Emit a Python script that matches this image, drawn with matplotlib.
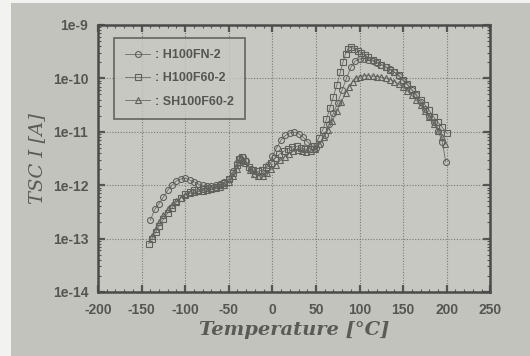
#!/usr/bin/env python3
"""
TSC current vs temperature - three samples, log scale
"""

import numpy as np
import matplotlib.pyplot as plt
from matplotlib.patches import Rectangle
from matplotlib.ticker import LogLocator, FixedLocator, MultipleLocator

# H100FN-2 (circles)
temp_fn = [-140, -135, -130, -125, -120, -115, -110, -105, -100, -95, -90, -85, -80, -75,
           -70, -65, -60, -55, -50, -45, -40, -37, -34, -30, -25, -20, -15, -10, -5, 0,
           5, 10, 15, 20, 25, 30, 35, 40, 45, 50, 55, 60, 65, 70, 75, 80, 85, 90, 95,
           100, 105, 110, 115, 120, 125, 130, 135, 140, 145, 150, 155, 160, 165, 170,
           175, 180, 185, 190, 195, 199]
tsc_fn = [2.2e-13, 3.5e-13, 4.5e-13, 6e-13, 8e-13, 1e-12, 1.2e-12, 1.3e-12, 1.35e-12, 1.25e-12,
          1.15e-12, 1.05e-12, 1e-12, 9.5e-13, 9.5e-13, 1e-12, 1.05e-12, 1.15e-12, 1.3e-12,
          1.8e-12, 2.6e-12, 3.2e-12, 3.3e-12, 2.8e-12, 2e-12, 1.6e-12, 1.5e-12, 1.7e-12,
          2.4e-12, 3.5e-12, 5e-12, 7e-12, 8.5e-12, 9.5e-12, 9.8e-12, 9.2e-12, 8e-12, 6.5e-12,
          5.5e-12, 5e-12, 6e-12, 8.5e-12, 1.4e-11, 2.2e-11, 3.5e-11, 6e-11, 1e-10, 1.6e-10,
          2.1e-10, 2.3e-10, 2.35e-10, 2.25e-10, 2.1e-10, 1.95e-10, 1.8e-10, 1.65e-10,
          1.5e-10, 1.3e-10, 1.1e-10, 9e-11, 7.5e-11, 6e-11, 4.8e-11, 3.6e-11, 2.7e-11,
          2e-11, 1.5e-11, 1.05e-11, 6.5e-12, 2.7e-12]

# H100F60-2 (squares)
temp_f60 = [-142, -138, -134, -130, -125, -120, -115, -110, -105, -100, -95, -90, -85, -80,
            -75, -70, -65, -60, -55, -50, -45, -41, -38, -35, -31, -27, -22, -17, -12, -7,
            -2, 3, 8, 13, 18, 23, 28, 33, 38, 43, 48, 53, 58, 62, 66, 70, 74, 78, 81, 84,
            87, 90, 94, 98, 102, 106, 110, 115, 120, 125, 130, 135, 140, 145, 150, 155,
            160, 165, 170, 175, 180, 185, 190, 195, 200]
tsc_f60 = [8e-14, 1e-13, 1.3e-13, 1.7e-13, 2.3e-13, 3e-13, 3.8e-13, 4.8e-13, 5.8e-13, 6.8e-13,
           7.5e-13, 8e-13, 8.2e-13, 8.5e-13, 8.7e-13, 9e-13, 9.3e-13, 1e-12, 1.1e-12, 1.3e-12,
           1.7e-12, 2.4e-12, 3.1e-12, 3.3e-12, 2.8e-12, 2.2e-12, 1.9e-12, 1.8e-12, 1.9e-12,
           2.2e-12, 2.6e-12, 3.2e-12, 3.8e-12, 4.3e-12, 4.8e-12, 5.2e-12, 5.3e-12, 5e-12,
           4.7e-12, 4.8e-12, 5.5e-12, 7.5e-12, 1.1e-11, 1.7e-11, 2.8e-11, 4.5e-11, 7.5e-11,
           1.3e-10, 2e-10, 2.9e-10, 3.6e-10, 3.8e-10, 3.6e-10, 3.3e-10, 3e-10, 2.7e-10,
           2.5e-10, 2.2e-10, 2e-10, 1.8e-10, 1.6e-10, 1.45e-10, 1.3e-10, 1.15e-10, 9.5e-11,
           7.8e-11, 6.2e-11, 5e-11, 4e-11, 3.2e-11, 2.5e-11, 1.9e-11, 1.5e-11, 1.2e-11, 9.5e-12]

# SH100F60-2 (triangles)
temp_sh = [-138, -134, -130, -125, -120, -115, -110, -105, -100, -95, -90, -85, -80, -75,
           -70, -65, -60, -55, -50, -45, -41, -38, -35, -31, -26, -21, -16, -11, -6, -1,
           4, 9, 14, 19, 24, 29, 34, 39, 44, 49, 54, 59, 64, 69, 74, 79, 84, 88, 92, 96,
           100, 105, 110, 115, 120, 125, 130, 135, 140, 145, 150, 155, 160, 165, 170,
           175, 180, 185, 190, 195, 198]
tsc_sh = [1.1e-13, 1.5e-13, 2e-13, 2.7e-13, 3.5e-13, 4.3e-13, 5e-13, 5.8e-13, 6.5e-13,
          7e-13, 7.3e-13, 7.6e-13, 7.8e-13, 8e-13, 8.3e-13, 8.8e-13, 9.3e-13, 1e-12, 1.15e-12,
          1.5e-12, 2e-12, 2.7e-12, 3e-12, 2.6e-12, 1.9e-12, 1.6e-12, 1.5e-12, 1.5e-12,
          1.7e-12, 2e-12, 2.4e-12, 2.9e-12, 3.4e-12, 3.9e-12, 4.3e-12, 4.5e-12, 4.4e-12,
          4.2e-12, 4.3e-12, 4.8e-12, 6e-12, 8e-12, 1.1e-11, 1.6e-11, 2.4e-11, 3.6e-11,
          5.3e-11, 7e-11, 8.7e-11, 1e-10, 1.08e-10, 1.12e-10, 1.12e-10, 1.1e-10, 1.08e-10,
          1.05e-10, 1e-10, 9.5e-11, 8.7e-11, 7.8e-11, 6.8e-11, 5.8e-11, 4.8e-11, 3.9e-11,
          3.1e-11, 2.4e-11, 1.85e-11, 1.4e-11, 1.05e-11, 7.8e-12, 6e-12]

labels = [': H100FN-2', ': H100F60-2', ': SH100F60-2']
x_ticks = [-200, -150, -100, -50, 0, 50, 100, 150, 200, 250]
y_ticks = [1e-14, 1e-13, 1e-12, 1e-11, 1e-10, 1e-9]
y_ticklabels = ['1e-14', '1e-13', '1e-12', '1e-11', '1e-10', '1e-9']

ink = '#555552'
paper = '#c3c3be'

fig = plt.figure(figsize=(5.3, 3.56), dpi=100, facecolor=paper)
# white page edge visible in the photo
fig.patches.append(Rectangle((0, 0), 11 / 530, 1, transform=fig.transFigure,
                             facecolor='#f2f2f0', edgecolor='none', zorder=0))
fig.patches.append(Rectangle((0, 1 - 3 / 356), 1, 3 / 356, transform=fig.transFigure,
                             facecolor='#f2f2f0', edgecolor='none', zorder=0))

ax = fig.add_axes([0.185, 0.18, 0.74, 0.75])
ax.set_facecolor('#c8c8c3')

mk = dict(markerfacecolor='none', markeredgecolor='#60605d', markeredgewidth=0.8,
          color='#6a6a66', linewidth=0.6, markersize=4.3)
ax.plot(temp_fn, tsc_fn, marker='o', label=labels[0], **mk)
ax.plot(temp_f60, tsc_f60, marker='s', label=labels[1], **mk)
ax.plot(temp_sh, tsc_sh, marker='^', label=labels[2], **mk)

ax.set_yscale('log')
ax.set_xlim(-200, 250)
ax.set_ylim(1e-14, 1e-9)
ax.xaxis.set_major_locator(FixedLocator(x_ticks))
ax.xaxis.set_minor_locator(MultipleLocator(10))
ax.yaxis.set_major_locator(FixedLocator(y_ticks))
ax.yaxis.set_minor_locator(LogLocator(base=10, subs=np.arange(2, 10)))
ax.set_xticklabels([str(t) for t in x_ticks])
ax.set_yticklabels(y_ticklabels)

ax.tick_params(which='both', direction='in', top=True, right=True, colors=ink,
               labelcolor=ink)
ax.tick_params(axis='y', which='major', pad=7)
ax.tick_params(axis='x', which='major', pad=8)
ax.tick_params(which='major', length=5, width=1.6)
ax.tick_params(which='minor', length=2.5, width=0.8)
for lab in ax.get_xticklabels() + ax.get_yticklabels():
    lab.set_fontweight('bold')
    lab.set_family('Liberation Sans')
    lab.set_fontsize(10)

for sp in ax.spines.values():
    sp.set_color('#4a4a48')
    sp.set_linewidth(1.8)

ax.grid(True, which='major', linestyle=(0, (1, 1.5)), color='#7a7a76', linewidth=0.8)

ax.set_xlabel('Temperature [°C]', family='DejaVu Serif', style='italic', fontweight='bold',
              fontsize=14, color='#5a5a57', labelpad=3)
ax.set_ylabel('TSC I [A]', family='DejaVu Serif', style='italic',
              fontsize=14, color='#5a5a57', labelpad=5)

leg = ax.legend(loc='upper left', bbox_to_anchor=(0.025, 0.975), frameon=True,
                fancybox=False, edgecolor='#4a4a48', facecolor='#c8c8c3',
                prop={'family': 'Liberation Sans', 'weight': 'bold', 'size': 9},
                handlelength=2.0, labelspacing=0.9, borderpad=0.9, handletextpad=0.4)
leg.get_frame().set_linewidth(1.2)
for t in leg.get_texts():
    t.set_color(ink)

fig.savefig('out.png', dpi=100, facecolor=paper)
